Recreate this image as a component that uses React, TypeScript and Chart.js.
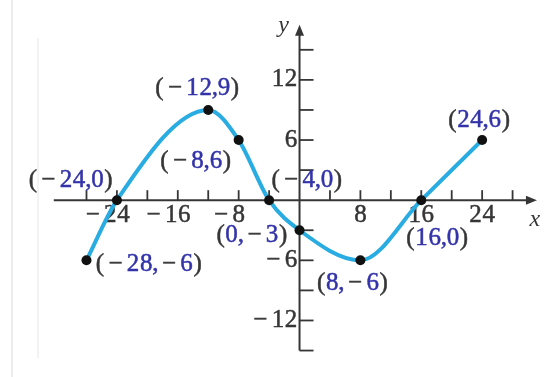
import React, { useEffect, useRef } from 'react';
import { Chart, registerables } from 'chart.js';

Chart.register(...registerables);

// ---- data ----
const xValues = [-28, -24, -12, -8, -4, 0, 8, 16, 24];
const yValues = [-6, 0, 9, 6, 0, -3, -6, 0, 6];
const pointLabels = ['(−28,−6)', '(−24,0)', '(−12,9)', '(−8,6)', '(−4,0)', '(0,−3)', '(8,−6)', '(16,0)', '(24,6)'];
const xTickMarks = [-28, -24, -20, -16, -12, -8, -4, 4, 8, 12, 16, 20, 24, 28];
const xTickLabels = [-24, -16, -8, 8, 16, 24];
const yTickMarks = [-15, -12, -9, -6, -3, 3, 6, 9, 12, 15];
const yTickLabels = [-12, -6, 6, 12];
const xAxisRange = [-32.3, 31.2];
const yAxisRange = [-15, 17.5];

// ---- styling (label placement relative to its point, in px) ----
const labelPlacement: { dx: number; dy: number; align: 'left' | 'right' | 'center' }[] = [
  { dx: 9, dy: 4, align: 'left' },
  { dx: -4, dy: -20, align: 'right' },
  { dx: -11, dy: -22, align: 'center' },
  { dx: -43, dy: 21, align: 'center' },
  { dx: 2, dy: -20, align: 'left' },
  { dx: -12, dy: 5, align: 'right' },
  { dx: -8, dy: 23, align: 'center' },
  { dx: 16, dy: 38, align: 'center' },
  { dx: -3, dy: -20, align: 'center' },
];

const FONT = "25px 'Liberation Serif', 'DejaVu Serif', serif";
const GRAY = '#363636';
const BLUE = '#3333aa';
const CURVE = '#28ace2';

const fmt = (v: number) => (v < 0 ? '−' + Math.abs(v) : String(v));

function charWidth(ctx: CanvasRenderingContext2D, ch: string) {
  const w = ctx.measureText(ch).width;
  if (ch === '−') return w + 8;
  if (ch === ',') return w - 1;
  return w + 0.6;
}

function textWidth(ctx: CanvasRenderingContext2D, s: string) {
  let w = 0;
  for (const ch of s) w += charWidth(ctx, ch);
  return w;
}

function drawRich(
  ctx: CanvasRenderingContext2D,
  s: string,
  x: number,
  y: number,
  align: 'left' | 'right' | 'center',
  colored: boolean
) {
  const total = textWidth(ctx, s);
  let cx = align === 'left' ? x : align === 'right' ? x - total : x - total / 2;
  ctx.textAlign = 'center';
  ctx.textBaseline = 'middle';
  ctx.lineWidth = 0.5;
  for (const ch of s) {
    const w = charWidth(ctx, ch);
    const isBlue = colored && /[0-9,]/.test(ch);
    const col = isBlue ? BLUE : GRAY;
    ctx.fillStyle = col;
    ctx.strokeStyle = col;
    ctx.fillText(ch, cx + w / 2, y);
    ctx.strokeText(ch, cx + w / 2, y);
    cx += w;
  }
}

const axesPlugin = {
  id: 'mathAxes',
  beforeDatasetsDraw(chart: any) {
    const ctx: CanvasRenderingContext2D = chart.ctx;
    const xs = chart.scales.x;
    const ys = chart.scales.y;
    const ox = xs.getPixelForValue(0);
    const oy = ys.getPixelForValue(0);
    ctx.save();
    ctx.strokeStyle = GRAY;
    ctx.fillStyle = GRAY;
    // x axis
    const xl = xs.getPixelForValue(xAxisRange[0]);
    const xr = xs.getPixelForValue(xAxisRange[1]);
    ctx.lineWidth = 2;
    ctx.beginPath();
    ctx.moveTo(xl, oy);
    ctx.lineTo(xr - 6, oy);
    ctx.stroke();
    ctx.beginPath();
    ctx.moveTo(xr, oy);
    ctx.lineTo(xr - 11, oy - 4.5);
    ctx.lineTo(xr - 11, oy + 4.5);
    ctx.closePath();
    ctx.fill();
    // y axis
    const yb = ys.getPixelForValue(yAxisRange[0]);
    const yt = ys.getPixelForValue(yAxisRange[1]);
    ctx.beginPath();
    ctx.moveTo(ox, yb);
    ctx.lineTo(ox, yt + 6);
    ctx.stroke();
    ctx.beginPath();
    ctx.moveTo(ox, yt);
    ctx.lineTo(ox - 4.5, yt + 11);
    ctx.lineTo(ox + 4.5, yt + 11);
    ctx.closePath();
    ctx.fill();
    // ticks
    ctx.lineWidth = 1.8;
    for (const t of xTickMarks) {
      const px = xs.getPixelForValue(t);
      ctx.beginPath();
      ctx.moveTo(px, oy);
      ctx.lineTo(px, oy - 10);
      ctx.stroke();
    }
    for (const t of yTickMarks) {
      const py = ys.getPixelForValue(t);
      ctx.beginPath();
      ctx.moveTo(ox, py);
      ctx.lineTo(ox + 14, py);
      ctx.stroke();
    }
    // tick labels
    ctx.font = FONT;
    for (const t of xTickLabels) {
      const px = xs.getPixelForValue(t);
      const digits = String(Math.abs(t));
      const dw = textWidth(ctx, digits);
      drawRich(ctx, fmt(t), px + dw / 2, oy + 15, 'right', false);
    }
    for (const t of yTickLabels) {
      const py = ys.getPixelForValue(t);
      drawRich(ctx, fmt(t), ox - 2, py, 'right', false);
    }
    // axis names
    ctx.font = "italic 24px 'Liberation Serif', 'DejaVu Serif', serif";
    ctx.fillStyle = GRAY;
    ctx.textAlign = 'center';
    ctx.textBaseline = 'middle';
    ctx.fillText('x', xr - 2, oy + 20);
    ctx.fillText('y', ox - 16, yt + 1);
    ctx.restore();
  },
  afterDatasetsDraw(chart: any) {
    const ctx: CanvasRenderingContext2D = chart.ctx;
    const xs = chart.scales.x;
    const ys = chart.scales.y;
    ctx.save();
    ctx.font = FONT;
    pointLabels.forEach((lab, i) => {
      const px = xs.getPixelForValue(xValues[i]);
      const py = ys.getPixelForValue(yValues[i]);
      const p = labelPlacement[i];
      drawRich(ctx, lab, px + p.dx, py + p.dy, p.align, true);
    });
    ctx.restore();
  },
};

export default function App() {
  const ref = useRef<HTMLCanvasElement>(null);
  useEffect(() => {
    document.body.style.margin = '0';
    const canvas = ref.current!;
    const chart = new Chart(canvas, {
      type: 'line',
      data: {
        datasets: [
          {
            data: xValues.map((x, i) => ({ x, y: yValues[i] })),
            borderColor: CURVE,
            borderWidth: 4,
            cubicInterpolationMode: 'monotone',
            pointRadius: 5,
            pointBackgroundColor: '#111',
            pointBorderColor: '#111',
            pointBorderWidth: 0,
            clip: false,
            fill: false,
          } as any,
        ],
      },
      options: {
        responsive: false,
        animation: false,
        devicePixelRatio: 1,
        events: [],
        layout: { padding: 0 },
        plugins: { legend: { display: false }, tooltip: { enabled: false } },
        scales: {
          x: { type: 'linear', min: -38.71, max: 32.13, display: false },
          y: { type: 'linear', min: -17.14, max: 19.47, display: false },
        },
      },
      plugins: [axesPlugin],
    });
    return () => chart.destroy();
  }, []);
  return (
    <div style={{ position: 'relative', width: 549, height: 377, background: '#fff', overflow: 'hidden' }}>
      <div style={{ position: 'absolute', left: 11, top: 0, width: 2, height: 377, background: '#ececec' }} />
      <div style={{ position: 'absolute', left: 37, top: 38, width: 2, height: 320, background: '#f3f3f3' }} />
      <canvas ref={ref} width={549} height={377} style={{ position: 'absolute', left: 0, top: 0, display: 'block' }} />
    </div>
  );
}
